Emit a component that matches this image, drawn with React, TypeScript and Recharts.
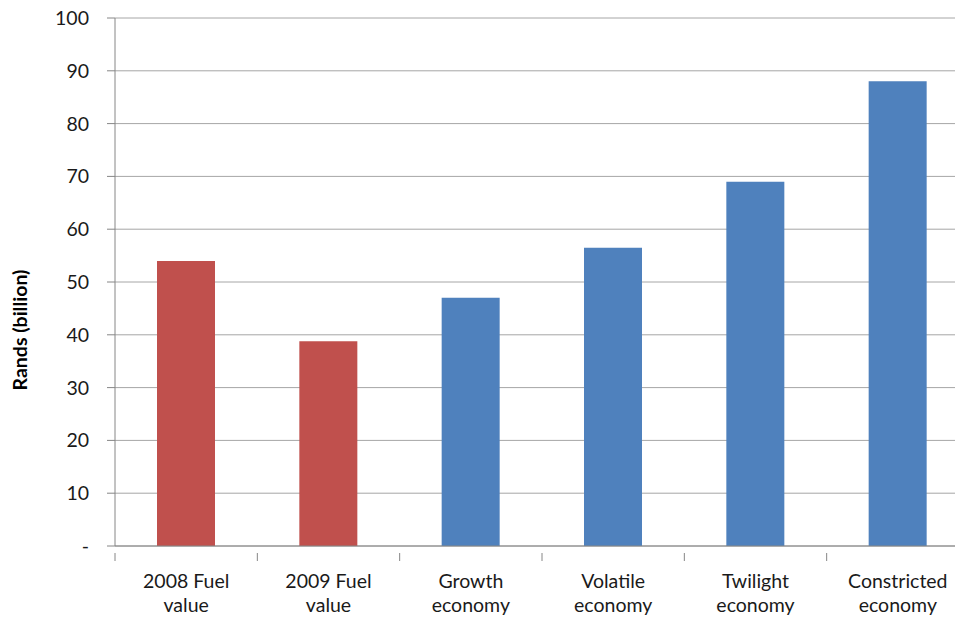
import React from 'react';
import { BarChart, Bar, XAxis, YAxis, CartesianGrid, Cell } from 'recharts';

const categories = ['2008 Fuel value', '2009 Fuel value', 'Growth economy', 'Volatile economy', 'Twilight economy', 'Constricted economy'];
const values = [54, 38.8, 47, 56.5, 69, 88];
const barColors = ['#C0504D', '#C0504D', '#4F81BD', '#4F81BD', '#4F81BD', '#4F81BD'];
const yTicks = [0, 10, 20, 30, 40, 50, 60, 70, 80, 90, 100];
const yLabel = 'Rands (billion)';

const data = categories.map((c, i) => ({ name: c, value: values[i] }));

const CHART_W = 1000;
const CHART_H = 619;
const MARGIN = { top: 18, right: 31, left: 0, bottom: 0 };
const Y_W = 115;
const PLOT_W = CHART_W - MARGIN.left - MARGIN.right - Y_W;
const HALF_BAND = PLOT_W / categories.length / 2;
const FONT = 'Lato, "Open Sans", sans-serif';

const XTick = (props: any) => {
  const { x, y, payload } = props;
  const s = String(payload.value);
  const idx = s.lastIndexOf(' ');
  const lines = [s.slice(0, idx), s.slice(idx + 1)];
  return (
    <g>
      <line x1={x - HALF_BAND} x2={x - HALF_BAND} y1={y - 1} y2={y + 7} stroke="#868686" strokeWidth={1} />
      <text x={x} y={y + 34} textAnchor="middle" fontSize={19.5} fontFamily={FONT} fill="#1a1a1a">
        <tspan x={x} dy={0}>{lines[0]}</tspan>
        <tspan x={x} dy={24}>{lines[1]}</tspan>
      </text>
    </g>
  );
};

const YLabel = (props: any) => {
  const { viewBox } = props;
  const cx = 19;
  const cy = viewBox.y + viewBox.height / 2 + 48;
  return (
    <text x={cx} y={cy} transform={`rotate(-90, ${cx}, ${cy})`} textAnchor="middle" dominantBaseline="central"
      fontSize={19.5} fontWeight="bold" fontFamily={FONT} fill="#000">
      {yLabel}
    </text>
  );
};

export default function App() {
  return (
    <div style={{ position: 'absolute', left: 0, top: 0, width: 955, height: 619, overflow: 'hidden', background: '#fff' }}>
      <BarChart width={CHART_W} height={CHART_H} data={data} margin={MARGIN}>
        <CartesianGrid horizontal={true} vertical={false} stroke="#a6a6a6" strokeWidth={1} />
        <XAxis dataKey="name" height={73} interval={0} tickLine={false} axisLine={{ stroke: '#868686' }} tick={<XTick />} />
        <YAxis
          width={Y_W}
          domain={[0, 100]}
          ticks={yTicks}
          interval={0}
          tickSize={8}
          tickMargin={18}
          tickLine={{ stroke: '#868686' }}
          axisLine={{ stroke: '#868686' }}
          tickFormatter={(v: number) => (v === 0 ? '-' : String(v))}
          tick={{ fontSize: 19.5, fontFamily: FONT, fill: '#1a1a1a' }}
          label={<YLabel />}
        />
        <Bar dataKey="value" barSize={58} isAnimationActive={false}>
          {data.map((d, i) => (
            <Cell key={d.name} fill={barColors[i]} />
          ))}
        </Bar>
      </BarChart>
    </div>
  );
}
